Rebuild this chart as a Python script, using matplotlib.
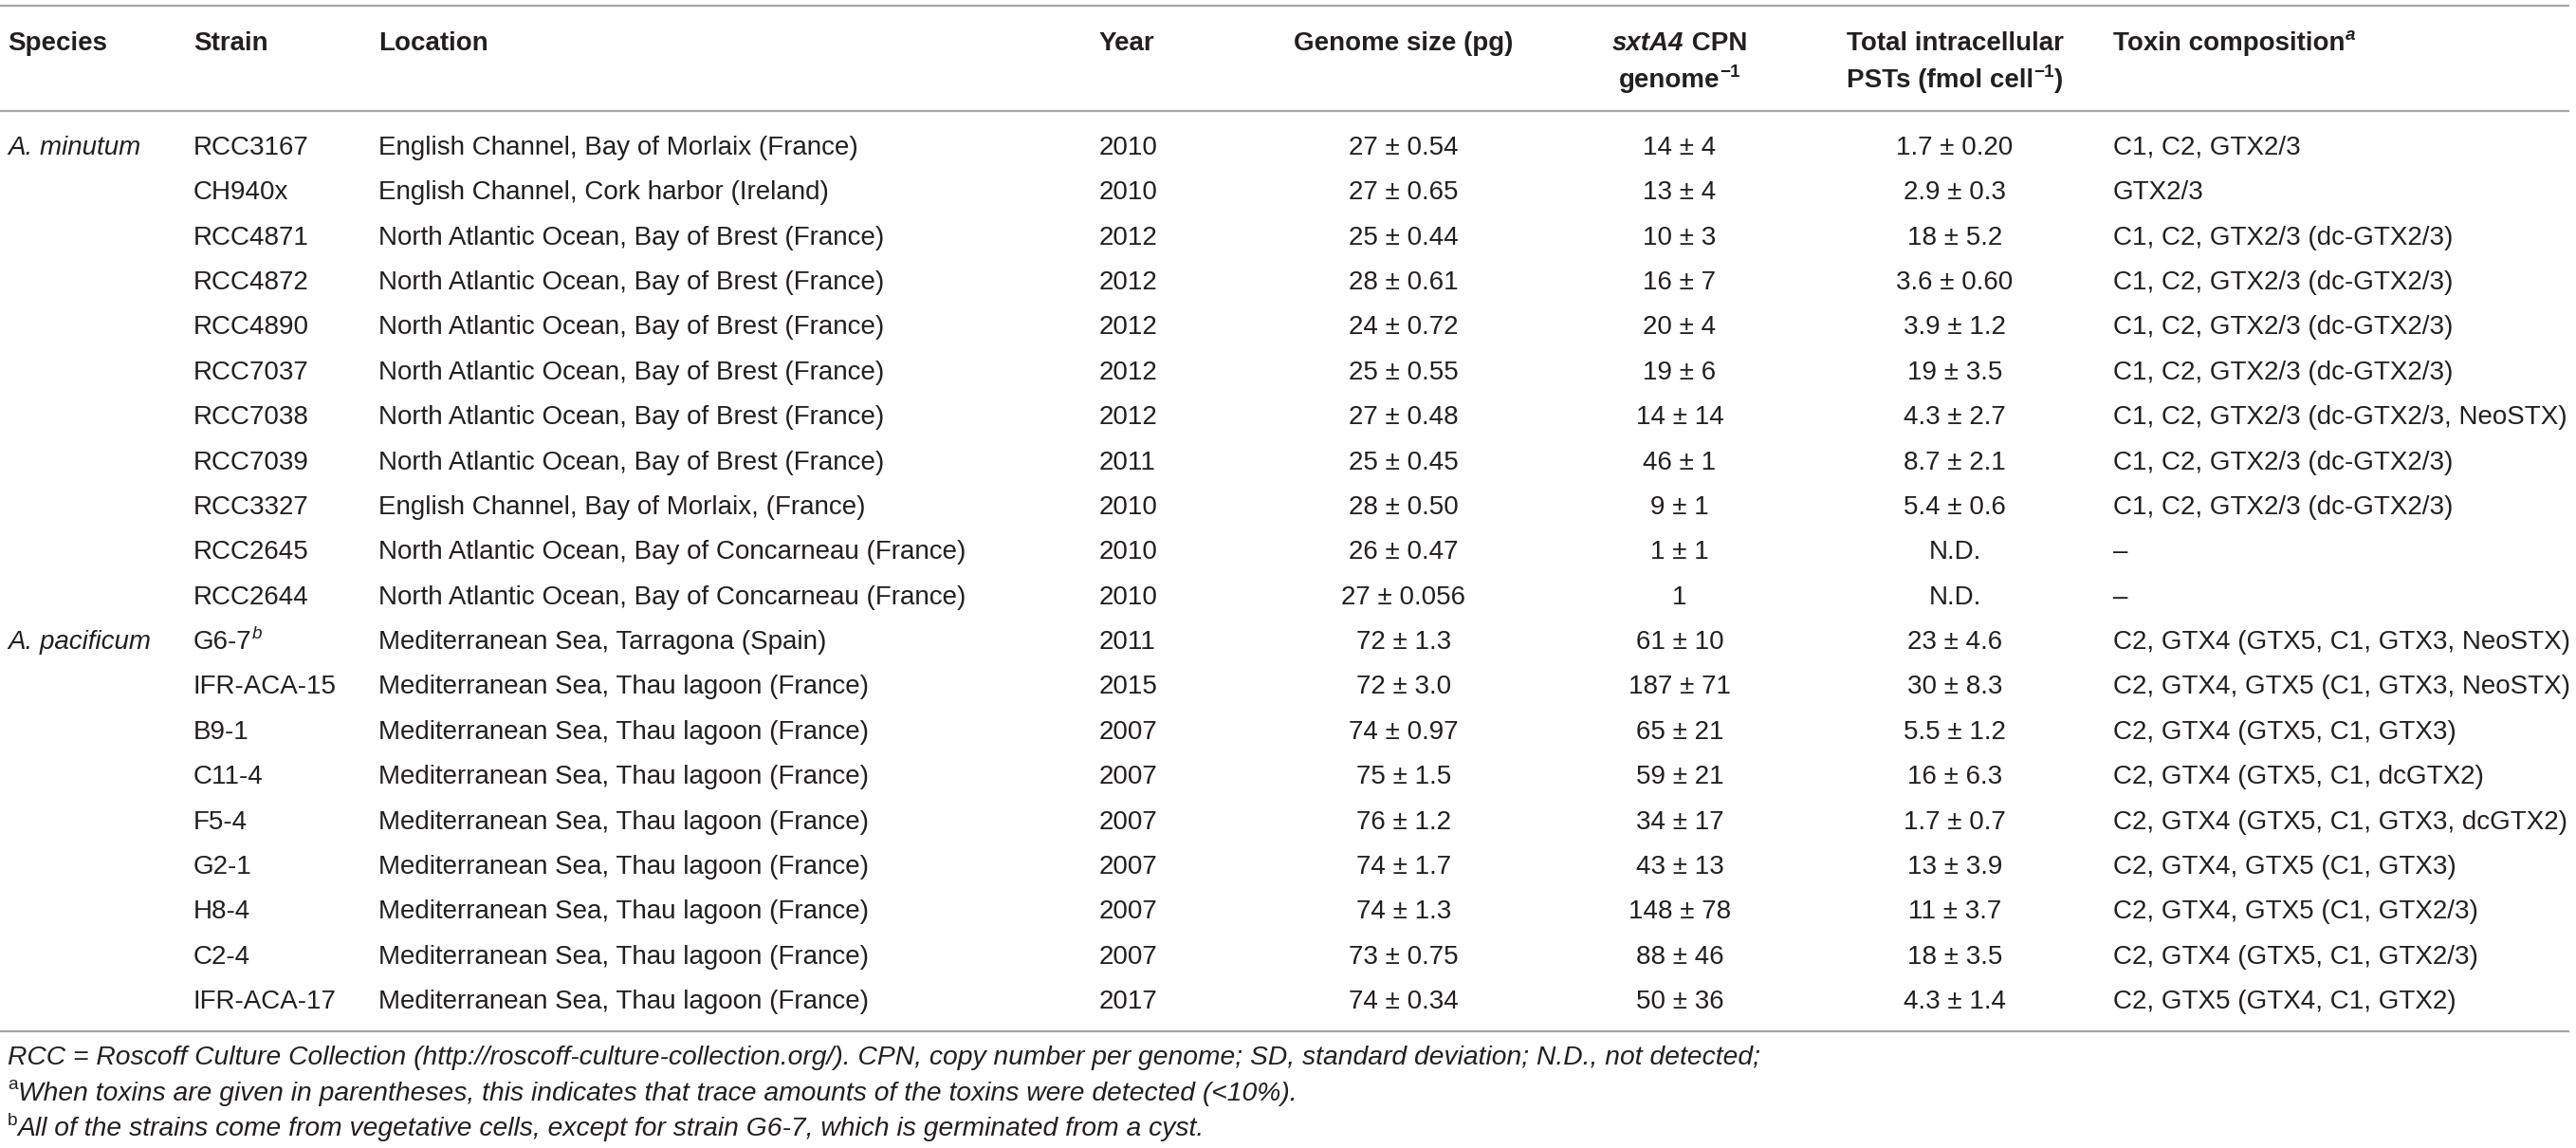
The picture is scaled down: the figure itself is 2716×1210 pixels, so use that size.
import matplotlib
matplotlib.use('Agg')
import matplotlib.pyplot as plt

# ---------------- data ----------------
species = ["A. minutum", "", "", "", "", "", "", "", "", "", "",
           "A. pacificum", "", "", "", "", "", "", "", ""]
strains = ["RCC3167", "CH940x", "RCC4871", "RCC4872", "RCC4890", "RCC7037",
           "RCC7038", "RCC7039", "RCC3327", "RCC2645", "RCC2644", "G6-7",
           "IFR-ACA-15", "B9-1", "C11-4", "F5-4", "G2-1", "H8-4", "C2-4", "IFR-ACA-17"]
strain_marks = ["", "", "", "", "", "", "", "", "", "", "", "b",
                "", "", "", "", "", "", "", ""]
locations = ["English Channel, Bay of Morlaix (France)",
             "English Channel, Cork harbor (Ireland)",
             "North Atlantic Ocean, Bay of Brest (France)",
             "North Atlantic Ocean, Bay of Brest (France)",
             "North Atlantic Ocean, Bay of Brest (France)",
             "North Atlantic Ocean, Bay of Brest (France)",
             "North Atlantic Ocean, Bay of Brest (France)",
             "North Atlantic Ocean, Bay of Brest (France)",
             "English Channel, Bay of Morlaix, (France)",
             "North Atlantic Ocean, Bay of Concarneau (France)",
             "North Atlantic Ocean, Bay of Concarneau (France)",
             "Mediterranean Sea, Tarragona (Spain)",
             "Mediterranean Sea, Thau lagoon (France)",
             "Mediterranean Sea, Thau lagoon (France)",
             "Mediterranean Sea, Thau lagoon (France)",
             "Mediterranean Sea, Thau lagoon (France)",
             "Mediterranean Sea, Thau lagoon (France)",
             "Mediterranean Sea, Thau lagoon (France)",
             "Mediterranean Sea, Thau lagoon (France)",
             "Mediterranean Sea, Thau lagoon (France)"]
years = ["2010", "2010", "2012", "2012", "2012", "2012", "2012", "2011", "2010", "2010",
         "2010", "2011", "2015", "2007", "2007", "2007", "2007", "2007", "2007", "2017"]
genome_mean = ["27", "27", "25", "28", "24", "25", "27", "25", "28", "26",
               "27", "72", "72", "74", "75", "76", "74", "74", "73", "74"]
genome_sd = ["0.54", "0.65", "0.44", "0.61", "0.72", "0.55", "0.48", "0.45", "0.50", "0.47",
             "0.056", "1.3", "3.0", "0.97", "1.5", "1.2", "1.7", "1.3", "0.75", "0.34"]
cpn_mean = ["14", "13", "10", "16", "20", "19", "14", "46", "9", "1",
            "1", "61", "187", "65", "59", "34", "43", "148", "88", "50"]
cpn_sd = ["4", "4", "3", "7", "4", "6", "14", "1", "1", "1",
          "", "10", "71", "21", "21", "17", "13", "78", "46", "36"]
pst_mean = ["1.7", "2.9", "18", "3.6", "3.9", "19", "4.3", "8.7", "5.4", "N.D.",
            "N.D.", "23", "30", "5.5", "16", "1.7", "13", "11", "18", "4.3"]
pst_sd = ["0.20", "0.3", "5.2", "0.60", "1.2", "3.5", "2.7", "2.1", "0.6", "",
          "", "4.6", "8.3", "1.2", "6.3", "0.7", "3.9", "3.7", "3.5", "1.4"]
toxins = ["C1, C2, GTX2/3",
          "GTX2/3",
          "C1, C2, GTX2/3 (dc-GTX2/3)",
          "C1, C2, GTX2/3 (dc-GTX2/3)",
          "C1, C2, GTX2/3 (dc-GTX2/3)",
          "C1, C2, GTX2/3 (dc-GTX2/3)",
          "C1, C2, GTX2/3 (dc-GTX2/3, NeoSTX)",
          "C1, C2, GTX2/3 (dc-GTX2/3)",
          "C1, C2, GTX2/3 (dc-GTX2/3)",
          "\u2013",
          "\u2013",
          "C2, GTX4 (GTX5, C1, GTX3, NeoSTX)",
          "C2, GTX4, GTX5 (C1, GTX3, NeoSTX)",
          "C2, GTX4 (GTX5, C1, GTX3)",
          "C2, GTX4 (GTX5, C1, dcGTX2)",
          "C2, GTX4 (GTX5, C1, GTX3, dcGTX2)",
          "C2, GTX4, GTX5 (C1, GTX3)",
          "C2, GTX4, GTX5 (C1, GTX2/3)",
          "C2, GTX4 (GTX5, C1, GTX2/3)",
          "C2, GTX5 (GTX4, C1, GTX2)"]
footnotes = [("", "RCC = Roscoff Culture Collection (http://roscoff-culture-collection.org/). "
                  "CPN, copy number per genome; SD, standard deviation; N.D., not detected;"),
             ("a", "When toxins are given in parentheses, this indicates that trace amounts "
                   "of the toxins were detected (<10%)."),
             ("b", "All of the strains come from vegetative cells, except for strain G6-7, "
                   "which is germinated from a cyst.")]

# ---------------- layout ----------------
W, H = 2716, 1210
FONT = ["Liberation Sans", "DejaVu Sans"]
FS = 20.0
FS_NOTE = 20.3
COLOR = "#231f20"
RULE = "#a6a6a6"

plt.rcParams['font.family'] = FONT
fig = plt.figure(figsize=(W / 100, H / 100), dpi=100)
ax = fig.add_axes([0, 0, 1, 1])
ax.set_xlim(0, W)
ax.set_ylim(H, 0)
ax.axis('off')
renderer = fig.canvas.get_renderer()


def runs(x, y, parts, ha='left', size=FS):
    """parts: list of (text, weight, style, sup)"""
    objs = []
    total = 0.0
    for txt, weight, style, sup in parts:
        s = size * (0.68 if sup else 1.0)
        t = ax.text(0, y - (size * 0.55 if sup else 0), txt, fontsize=s,
                    fontweight=weight, fontstyle=style, color=COLOR,
                    ha='left', va='baseline', family=FONT)
        w = t.get_window_extent(renderer).width
        objs.append((t, w))
        total += w
    if ha == 'center':
        x0 = x - total / 2
    elif ha == 'right':
        x0 = x - total
    else:
        x0 = x
    for t, w in objs:
        t.set_x(x0)
        x0 += w


col_species, col_strain, col_loc, col_year = 8, 204, 399, 1159
col_genome, col_cpn, col_pst, col_tox = 1480, 1771, 2061, 2228
rule_right = 2709

# rules
ax.hlines([6, 117, 1087], 0, rule_right, colors=RULE, linewidth=1.6)

# header
h1, h2 = 53, 92
B = 'bold'
runs(col_species, h1, [("Species", B, 'normal', False)])
runs(col_strain, h1, [("Strain", B, 'normal', False)])
runs(col_loc, h1, [("Location", B, 'normal', False)])
runs(col_year, h1, [("Year", B, 'normal', False)])
runs(col_genome, h1, [("Genome size (pg)", B, 'normal', False)], ha='center')
runs(col_cpn, h1, [("sxtA4", B, 'italic', False), (" CPN", B, 'normal', False)], ha='center')
runs(col_cpn, h2, [("genome", B, 'normal', False), ("\u22121", B, 'normal', True)], ha='center')
runs(col_pst, h1, [("Total intracellular", B, 'normal', False)], ha='center')
runs(col_pst, h2, [("PSTs (fmol cell", B, 'normal', False), ("\u22121", B, 'normal', True),
                   (")", B, 'normal', False)], ha='center')
runs(col_tox, h1, [("Toxin composition", B, 'normal', False), ("a", B, 'italic', True)])

# body
y0, dy = 163, 47.37
for i in range(len(strains)):
    y = y0 + i * dy
    if species[i]:
        runs(col_species, y, [(species[i], 'normal', 'italic', False)])
    sp = [(strains[i], 'normal', 'normal', False)]
    if strain_marks[i]:
        sp.append((strain_marks[i], 'normal', 'italic', True))
    runs(col_strain, y, sp)
    runs(col_loc, y, [(locations[i], 'normal', 'normal', False)])
    runs(col_year, y, [(years[i], 'normal', 'normal', False)])
    g = genome_mean[i] + (" \u00b1 " + genome_sd[i] if genome_sd[i] else "")
    c = cpn_mean[i] + (" \u00b1 " + cpn_sd[i] if cpn_sd[i] else "")
    p = pst_mean[i] + (" \u00b1 " + pst_sd[i] if pst_sd[i] else "")
    runs(col_genome, y, [(g, 'normal', 'normal', False)], ha='center')
    runs(col_cpn, y, [(c, 'normal', 'normal', False)], ha='center')
    runs(col_pst, y, [(p, 'normal', 'normal', False)], ha='center')
    runs(col_tox, y, [(toxins[i], 'normal', 'normal', False)])

# footnotes
fy0, fdy = 1122, 37.5
for k, (mark, txt) in enumerate(footnotes):
    parts = []
    if mark:
        parts.append((mark, 'normal', 'normal', True))
    parts.append((txt, 'normal', 'italic', False))
    runs(col_species, fy0 + k * fdy, parts, size=FS_NOTE)

fig.savefig("out.png", dpi=100)
